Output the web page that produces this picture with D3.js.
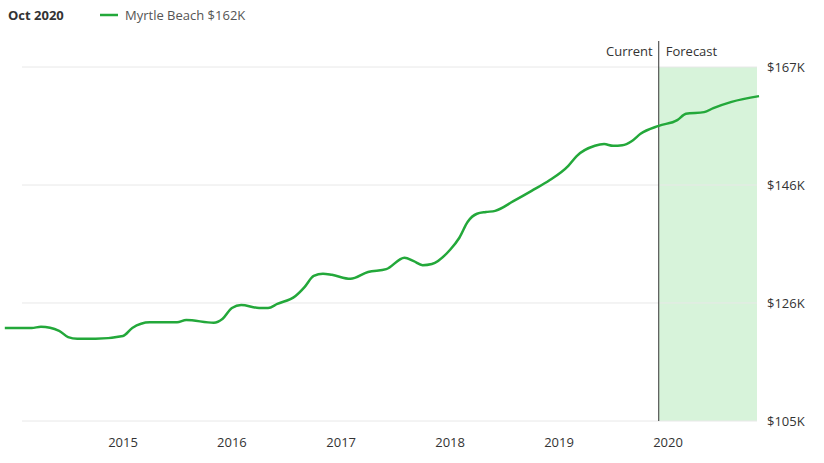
<!DOCTYPE html>
<html><head><meta charset="utf-8">
<script src="https://cdn.jsdelivr.net/npm/d3@7"></script>
<style>body{margin:0;background:#fff;font-family:"Open Sans",sans-serif}</style>
</head><body><svg id="c" width="824" height="463"></svg>
<script>
// ========= Data =========
const months = ["2013-12","2014-03","2014-04","2014-06","2014-07","2014-08","2014-10","2015-01","2015-02","2015-04",
  "2015-07","2015-08","2015-11","2015-12","2016-01","2016-02","2016-04","2016-05","2016-06","2016-08",
  "2016-09","2016-10","2016-11","2016-12","2017-02","2017-04","2017-06","2017-08","2017-09","2017-10",
  "2017-11","2018-01","2018-02","2018-03","2018-04","2018-05","2018-06","2018-08","2018-10","2018-12",
  "2019-02","2019-03","2019-05","2019-06","2019-07","2019-08","2019-09","2019-10","2019-12","2020-02",
  "2020-03","2020-05","2020-06","2020-08","2020-11"];
const values = [121.3,121.3,121.5,120.8,119.7,119.4,119.4,119.9,121.3,122.3,
  122.3,122.7,122.2,122.9,124.8,125.3,124.8,124.8,125.5,126.9,
  128.5,130.4,130.8,130.6,129.9,131.1,131.6,133.6,133.0,132.3,
  132.5,135.0,137.1,139.9,141.3,141.6,141.8,143.5,145.3,147.2,
  149.7,151.4,153.2,153.5,153.2,153.3,154.0,155.3,156.7,157.7,
  158.8,159.1,159.8,160.9,161.9];
const yTicks = [105, 125.67, 146.33, 167];
const xTicks = [2015, 2016, 2017, 2018, 2019, 2020];
const currentMonth = "2019-12";

const parse = d3.timeParse("%Y-%m");
const data = months.map((m, i) => ({ date: parse(m), value: values[i] }));

const svg = d3.select("#c");
const green = "#23a83a";

const x = d3.scaleTime()
  .domain([new Date(2015, 0, 1), new Date(2020, 0, 1)])
  .range([123, 668]);
const y = d3.scaleLinear().domain([105, 167]).range([421, 67]);

const left = 22, right = 757;
const xCur = x(parse(currentMonth));

// forecast band
svg.append("rect")
  .attr("x", xCur).attr("y", y(167))
  .attr("width", right - xCur).attr("height", y(105) - y(167))
  .attr("fill", "#d7f3da");

// gridlines + right labels
yTicks.forEach(t => {
  svg.append("line").attr("x1", left).attr("x2", right)
    .attr("y1", y(t)).attr("y2", y(t))
    .attr("stroke", "#e8e8e8");
  svg.append("text").attr("x", 767).attr("y", y(t) + 5)
    .attr("font-size", 13).attr("fill", "#333")
    .text("$" + Math.round(t) + "K");
});

// x labels
xTicks.forEach(t => {
  svg.append("text").attr("x", x(new Date(t, 0, 1))).attr("y", 447)
    .attr("text-anchor", "middle").attr("font-size", 13).attr("fill", "#333")
    .text(t);
});

// current divider
svg.append("line").attr("x1", xCur).attr("x2", xCur)
  .attr("y1", 41).attr("y2", 421).attr("stroke", "#333").attr("stroke-width", 1);
svg.append("text").attr("x", xCur - 6).attr("y", 56).attr("text-anchor", "end")
  .attr("font-size", 13).attr("fill", "#333").text("Current");
svg.append("text").attr("x", xCur + 7).attr("y", 56)
  .attr("font-size", 13).attr("fill", "#333").text("Forecast");

// line
svg.append("path").datum(data)
  .attr("fill", "none").attr("stroke", green).attr("stroke-width", 2.5)
  .attr("stroke-linejoin", "round")
  .attr("d", d3.line().x(d => x(d.date)).y(d => y(d.value)).curve(d3.curveMonotoneX));

// header
svg.append("text").attr("x", 8).attr("y", 20).attr("font-size", 13)
  .attr("font-weight", "bold").attr("fill", "#333").text("Oct 2020");
svg.append("line").attr("x1", 100).attr("x2", 118).attr("y1", 15).attr("y2", 15)
  .attr("stroke", green).attr("stroke-width", 2.5);
svg.append("text").attr("x", 125).attr("y", 20).attr("font-size", 13)
  .attr("fill", "#555").text("Myrtle Beach $162K");
</script></body></html>
